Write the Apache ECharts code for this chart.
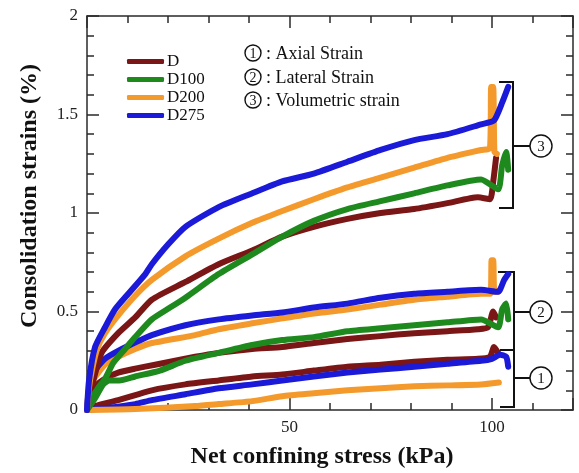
<!DOCTYPE html>
<html>
<head>
<meta charset="utf-8">
<script src="https://cdn.jsdelivr.net/npm/echarts@6/dist/echarts.min.js"></script>
<style>
html,body{margin:0;padding:0;background:#fff;}
#chart{width:579px;height:473px;}
</style>
</head>
<body>
<div id="chart"></div>
<script>
// ---- data (x = net confining stress kPa, y = strain %) ----
const specimens = ['D', 'D100', 'D200', 'D275'];
const colors = ['#7a1616', '#1e8a1e', '#f49a2c', '#1a1ad8'];
const xLabelTicks = [50, 100];
const yLabelTicks = [0, 0.5, 1, 1.5, 2];

// Volumetric strain (3)
const D_vol = [[0,0],[1.2,0.12],[3.6,0.29],[7.7,0.39],[11.9,0.47],[16,0.56],[24.3,0.65],[32.5,0.74],[40.8,0.81],[48.2,0.88],[56,0.93],[64.3,0.97],[72.5,1.0],[80.8,1.02],[89,1.05],[96.5,1.08],[99.5,1.07],[100.3,1.16],[101,1.28]];
const D100_vol = [[0,0],[1.2,0.06],[3,0.12],[4.5,0.16],[6.5,0.24],[9.4,0.31],[11.9,0.37],[16,0.46],[20.5,0.52],[24.3,0.57],[32.5,0.69],[40.8,0.79],[48.2,0.88],[56,0.96],[64.3,1.02],[72.5,1.06],[80.8,1.10],[89,1.14],[97.3,1.17],[101.5,1.12],[102.5,1.24],[103.5,1.31],[104,1.22]];
const D200_vol = [[0,0],[0.4,0.1],[1.2,0.2],[2.5,0.31],[4.45,0.39],[7.7,0.48],[11.9,0.58],[16,0.66],[24.3,0.78],[32.5,0.87],[40.8,0.95],[48.2,1.01],[56,1.07],[64.3,1.13],[72.5,1.18],[80.8,1.23],[89,1.28],[97.3,1.32],[99.5,1.33],[99.8,1.64],[100.3,1.64],[100.6,1.31],[101.2,1.30]];
const D275_vol = [[0,0],[0.5,0.15],[2,0.32],[4.45,0.42],[6.9,0.51],[10.2,0.59],[14.4,0.69],[16,0.74],[20,0.84],[24.3,0.93],[32.5,1.03],[40.8,1.10],[48.2,1.16],[56,1.20],[64.3,1.26],[72.5,1.32],[80.8,1.37],[89,1.40],[97.3,1.45],[100.5,1.47],[102.5,1.56],[104,1.64]];

// Lateral strain (2)
const D_lat = [[0,0],[0.5,0.06],[2,0.12],[4.5,0.16],[7.7,0.19],[11.9,0.21],[16.8,0.23],[26.7,0.27],[32.5,0.29],[40.8,0.31],[48.2,0.32],[56,0.34],[64.3,0.36],[72.5,0.375],[80.8,0.39],[89,0.40],[96.5,0.41],[99,0.42],[100.3,0.50],[101,0.47]];
const D100_lat = [[0,0],[2,0.06],[4,0.13],[5.5,0.15],[8,0.15],[11.9,0.17],[18,0.20],[24.3,0.25],[32.5,0.29],[40.8,0.33],[48.2,0.355],[56,0.37],[64.3,0.40],[72.5,0.415],[80.8,0.43],[89,0.445],[97.3,0.46],[101.5,0.42],[102.5,0.51],[103.5,0.54],[104,0.46]];
const D200_lat = [[0,0],[0.5,0.08],[1.5,0.15],[4.45,0.23],[7.7,0.27],[11.9,0.31],[16,0.34],[26.7,0.38],[32.5,0.41],[40.8,0.44],[48.2,0.465],[56,0.49],[64.3,0.51],[72.5,0.535],[80.8,0.56],[89,0.575],[97.3,0.59],[99.6,0.59],[99.9,0.76],[100.3,0.76],[100.6,0.60],[101.5,0.60]];
const D275_lat = [[0,0],[0.5,0.1],[2,0.2],[4.45,0.26],[7.7,0.30],[12.7,0.35],[16,0.38],[24.3,0.43],[32.5,0.46],[40.8,0.48],[48.2,0.495],[56,0.52],[64.3,0.54],[72.5,0.57],[80.8,0.59],[89,0.60],[97.3,0.61],[101.5,0.60],[103,0.66],[104,0.69]];

// Axial strain (1)
const D_ax = [[0,0],[2,0.02],[7.7,0.05],[16,0.10],[24.3,0.13],[32.5,0.15],[40.8,0.17],[48.2,0.18],[56,0.20],[64.3,0.22],[72.5,0.23],[80.8,0.245],[89,0.255],[96.5,0.26],[99.5,0.27],[100.5,0.32],[101.5,0.29]];
const D200_ax = [[0,0],[11.9,0.005],[26.7,0.02],[32.5,0.03],[40.8,0.045],[48.2,0.07],[56,0.085],[64.3,0.10],[72.5,0.11],[80.8,0.12],[89,0.125],[97.3,0.13],[101.7,0.14]];
const D275_ax = [[0,0],[5,0.01],[11.9,0.03],[16,0.05],[24.3,0.08],[32.5,0.11],[40.8,0.13],[48.2,0.15],[56,0.17],[64.3,0.19],[72.5,0.205],[80.8,0.22],[89,0.235],[97.3,0.25],[100,0.26],[102,0.28],[103.5,0.27],[104,0.22]];

const curveSets = [
  ['D', D_ax], ['D275', D275_ax], ['D200', D200_ax],
  ['D', D_lat], ['D100', D100_lat], ['D200', D200_lat], ['D275', D275_lat],
  ['D', D_vol], ['D100', D100_vol], ['D200', D200_vol], ['D275', D275_vol]
];

const annotations = ['Axial Strain', 'Lateral Strain', 'Volumetric strain'];
const xTitle = 'Net confining stress (kPa)';
const yTitle = 'Consolidation strains (%)';

// ---- chart ----
const chart = echarts.init(document.getElementById('chart'), null, {renderer: 'canvas'});
const SERIF = '"Liberation Serif", "DejaVu Serif", serif';
const AX = '#2a2a2a';

function colorOf(name) { return colors[specimens.indexOf(name)]; }

const series = curveSets.map(([name, data]) => ({
  name: name,
  type: 'line',
  xAxisIndex: 0,
  yAxisIndex: 0,
  data: data,
  showSymbol: false,
  symbol: 'none',
  smooth: 0.2,
  color: colorOf(name),
  lineStyle: {width: 6, color: colorOf(name), cap: 'round', join: 'round'},
  emphasis: {disabled: true},
  silent: true
}));

function xAx(pos, interval, len, labels, line) {
  return {
    type: 'value', position: pos, min: 0, max: 120, interval: interval,
    splitLine: {show: false},
    axisLine: {show: line, onZero: false, lineStyle: {color: AX, width: 1.5}},
    axisTick: {show: true, inside: true, length: len, lineStyle: {color: AX, width: 1.5}},
    axisLabel: labels ? {
      show: true, margin: 9, color: '#222', fontSize: 17, fontFamily: SERIF,
      formatter: v => xLabelTicks.indexOf(v) >= 0 ? String(v) : ''
    } : {show: false}
  };
}
function yAx(pos, interval, len, labels, line) {
  return {
    type: 'value', position: pos, min: 0, max: 2, interval: interval,
    splitLine: {show: false},
    axisLine: {show: line, onZero: false, lineStyle: {color: AX, width: 1.5}},
    axisTick: {show: true, inside: true, length: len, lineStyle: {color: AX, width: 1.5}},
    axisLabel: labels ? {
      show: true, margin: 9, color: '#222', fontSize: 17, fontFamily: SERIF,
      formatter: v => yLabelTicks.some(t => Math.abs(t - v) < 1e-6) ? String(+v.toFixed(1)) : ''
    } : {show: false}
  };
}

const graphics = [];
// axis titles
graphics.push({type: 'text', x: 322, y: 457, style: {text: xTitle, fontSize: 24, fontWeight: 'bold', fontFamily: SERIF, fill: '#111', align: 'center', verticalAlign: 'middle'}});
graphics.push({type: 'text', x: 30, y: 196, rotation: Math.PI / 2, style: {text: yTitle, fontSize: 24, fontWeight: 'bold', fontFamily: SERIF, fill: '#111', align: 'center', verticalAlign: 'middle'}});
// annotation key
const keyY = [53, 77, 100];
annotations.forEach((t, i) => {
  graphics.push({type: 'circle', shape: {cx: 253, cy: keyY[i], r: 8}, style: {fill: '#fff', stroke: '#111', lineWidth: 1.4}});
  graphics.push({type: 'text', x: 253, y: keyY[i] + 1, style: {text: String(i + 1), fontSize: 14, fontFamily: SERIF, fill: '#111', align: 'center', verticalAlign: 'middle'}});
  graphics.push({type: 'text', x: 266, y: keyY[i] + 1, style: {text: ': ' + t, fontSize: 18, fontFamily: SERIF, fill: '#111', align: 'left', verticalAlign: 'middle'}});
});
// brackets
const br = [
  {top: 82, bot: 208, mid: 146, x: 513, hookTop: 499, hookBot: 499, n: '3'},
  {top: 272, bot: 350, mid: 312, x: 514, hookTop: 498, hookBot: 514, n: '2'},
  {top: 350, bot: 407, mid: 378, x: 514, hookTop: 500, hookBot: 500, n: '1'}
];
br.forEach(b => {
  graphics.push({type: 'polyline', shape: {points: [[b.hookTop, b.top], [b.x, b.top], [b.x, b.bot], [b.hookBot, b.bot]]}, style: {stroke: '#111', lineWidth: 2, fill: null}});
  graphics.push({type: 'line', shape: {x1: b.x, y1: b.mid, x2: 530, y2: b.mid}, style: {stroke: '#111', lineWidth: 2}});
  graphics.push({type: 'circle', shape: {cx: 541, cy: b.mid, r: 11}, style: {fill: '#fff', stroke: '#111', lineWidth: 1.4}});
  graphics.push({type: 'text', x: 541, y: b.mid + 1, style: {text: b.n, fontSize: 15, fontFamily: SERIF, fill: '#111', align: 'center', verticalAlign: 'middle'}});
});

chart.setOption({
  animation: false,
  backgroundColor: '#fff',
  grid: {left: 87, right: 6, top: 16, bottom: 63},
  legend: {
    data: specimens,
    orient: 'vertical',
    left: 122, top: 48,
    icon: 'roundRect',
    itemWidth: 37, itemHeight: 5, itemGap: 1,
    selectedMode: false,
    textStyle: {fontSize: 17, fontFamily: SERIF, color: '#111', lineHeight: 16, padding: [0, 0, 0, -2]}
  },
  xAxis: [
    xAx('bottom', 10, 7, true, true),
    xAx('bottom', 50, 12, false, false),
    xAx('top', 10, 7, false, true),
    xAx('top', 50, 12, false, false)
  ],
  yAxis: [
    yAx('left', 0.1, 7, true, true),
    yAx('left', 0.5, 12, false, false),
    yAx('right', 0.1, 7, false, true),
    yAx('right', 0.5, 12, false, false)
  ],
  series: series,
  graphic: graphics
});
</script>
</body>
</html>
